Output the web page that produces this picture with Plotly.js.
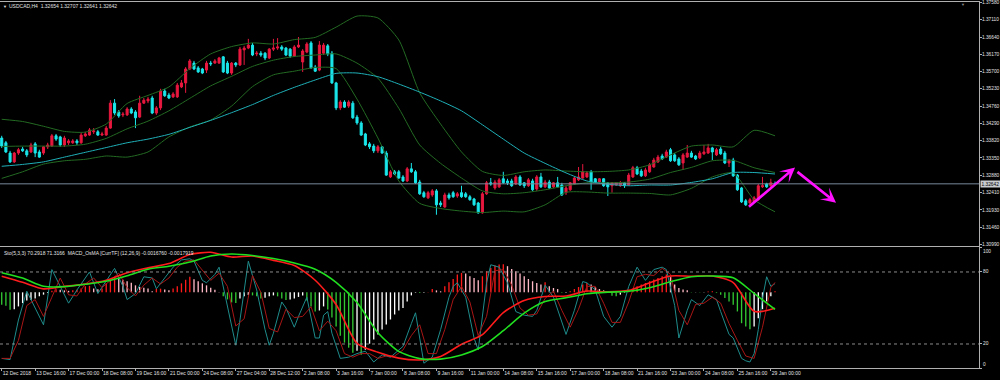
<!DOCTYPE html>
<html><head><meta charset="utf-8">
<script src="https://cdn.plot.ly/plotly-3.0.1.min.js"></script>
<style>html,body{margin:0;padding:0;background:#000;}#chart{width:1000px;height:380px;}</style>
</head><body><div id="chart"></div>
<script>
const symbolTitle = "USDCAD,H4  1.32654 1.32707 1.32641 1.32642";
const subTitle = "Sto(5,3,3) 70.2918 71.3166  MACD_OsMA [CurrTF] (12,26,9) -0.0016760 -0.0017919";

const open = [
1.3389,1.3376,1.3348,1.3324,1.3348,1.3359,1.3354,1.3351,1.3373,1.3351,
1.3348,1.3365,1.3367,1.3395,1.3392,1.3370,1.3376,1.3376,1.3381,1.3376,
1.3395,1.3397,1.3406,1.3406,1.3397,1.3397,1.3416,1.3484,1.3460,1.3452,
1.3452,1.3468,1.3460,1.3446,1.3484,1.3490,1.3498,1.3457,1.3471,1.3517,
1.3506,1.3501,1.3501,1.3528,1.3539,1.3577,1.3593,1.3580,1.3577,1.3574,
1.3593,1.3593,1.3593,1.3610,1.3593,1.3566,1.3593,1.3588,1.3629,1.3634,
1.3642,1.3618,1.3620,1.3620,1.3607,1.3631,1.3634,1.3637,1.3634,1.3631,
1.3612,1.3637,1.3596,1.3623,1.3648,1.3582,1.3574,1.3620,1.3640,1.3620,
1.3539,1.3471,1.3487,1.3476,1.3484,1.3446,1.3430,1.3400,1.3373,1.3367,
1.3354,1.3365,1.3348,1.3283,1.3297,1.3297,1.3283,1.3272,1.3305,1.3297,
1.3269,1.3240,1.3226,1.3234,1.3245,1.3212,1.3201,1.3234,1.3240,1.3231,
1.3240,1.3237,1.3229,1.3223,1.3212,1.3185,1.3237,1.3267,1.3253,1.3256,
1.3278,1.3272,1.3272,1.3264,1.3283,1.3267,1.3259,1.3272,1.3250,1.3283,
1.3256,1.3269,1.3256,1.3267,1.3261,1.3240,1.3248,1.3264,1.3275,1.3280,
1.3283,1.3297,1.3278,1.3269,1.3278,1.3267,1.3259,1.3261,1.3259,1.3267,
1.3261,1.3283,1.3308,1.3299,1.3286,1.3297,1.3310,1.3324,1.3340,1.3337,
1.3357,1.3343,1.3332,1.3321,1.3337,1.3348,1.3340,1.3335,1.3346,1.3348,
1.3362,1.3343,1.3359,1.3348,1.3321,1.3329,1.3288,1.3253,1.3218,1.3212,
1.3215,1.3221,1.3256,1.3264,1.3259,1.32654];
const high = [
1.3395,1.3381,1.3354,1.3351,1.3362,1.3365,1.3359,1.3376,1.3378,1.3357,
1.3367,1.3376,1.3400,1.3400,1.3395,1.3395,1.3386,1.3386,1.3386,1.3403,
1.3406,1.3416,1.3416,1.3411,1.3406,1.3422,1.3492,1.3495,1.3465,1.3460,
1.3473,1.3473,1.3465,1.3504,1.3498,1.3501,1.3504,1.3476,1.3523,1.3523,
1.3512,1.3514,1.3539,1.3547,1.3582,1.3604,1.3599,1.3585,1.3580,1.3599,
1.3599,1.3604,1.3610,1.3612,1.3599,1.3596,1.3596,1.3637,1.3640,1.3659,
1.3648,1.3626,1.3626,1.3623,1.3634,1.3659,1.3661,1.3642,1.3637,1.3634,
1.3642,1.3664,1.3631,1.3650,1.3653,1.3588,1.3653,1.3648,1.3645,1.3626,
1.3542,1.3492,1.3492,1.3492,1.3490,1.3452,1.3435,1.3403,1.3378,1.3373,
1.3370,1.3367,1.3354,1.3302,1.3302,1.3302,1.3288,1.3310,1.3321,1.3302,
1.3275,1.3245,1.3245,1.3250,1.3250,1.3218,1.3240,1.3240,1.3245,1.3242,
1.3259,1.3242,1.3234,1.3226,1.3215,1.3242,1.3272,1.3280,1.3275,1.3280,
1.3297,1.3278,1.3278,1.3288,1.3288,1.3269,1.3280,1.3278,1.3288,1.3294,
1.3275,1.3275,1.3269,1.3283,1.3267,1.3259,1.3269,1.3283,1.3310,1.3318,
1.3299,1.3302,1.3280,1.3280,1.3280,1.3269,1.3269,1.3269,1.3272,1.3269,
1.3294,1.3313,1.3313,1.3305,1.3308,1.3321,1.3335,1.3343,1.3346,1.3357,
1.3362,1.3348,1.3337,1.3348,1.3370,1.3354,1.3343,1.3354,1.3370,1.3373,
1.3365,1.3362,1.3365,1.3354,1.3332,1.3335,1.3291,1.3256,1.3223,1.3226,
1.3231,1.3264,1.3283,1.3267,1.3278,1.32707];
const low = [
1.3362,1.3348,1.3321,1.3321,1.3343,1.3351,1.3337,1.3348,1.3337,1.3335,
1.3343,1.3359,1.3365,1.3381,1.3365,1.3365,1.3370,1.3373,1.3370,1.3373,
1.3392,1.3395,1.3400,1.3395,1.3395,1.3395,1.3414,1.3452,1.3444,1.3446,
1.3449,1.3454,1.3416,1.3444,1.3482,1.3484,1.3454,1.3452,1.3465,1.3501,
1.3495,1.3498,1.3498,1.3525,1.3512,1.3574,1.3574,1.3566,1.3563,1.3566,
1.3585,1.3591,1.3591,1.3566,1.3563,1.3561,1.3582,1.3585,1.3588,1.3631,
1.3612,1.3612,1.3610,1.3601,1.3604,1.3626,1.3629,1.3626,1.3612,1.3607,
1.3610,1.3634,1.3569,1.3620,1.3577,1.3569,1.3571,1.3615,1.3612,1.3536,
1.3465,1.3465,1.3471,1.3471,1.3441,1.3425,1.3395,1.3367,1.3359,1.3348,
1.3348,1.3346,1.3286,1.3280,1.3288,1.3278,1.3269,1.3269,1.3294,1.3264,
1.3234,1.3226,1.3223,1.3229,1.3180,1.3201,1.3199,1.3221,1.3226,1.3226,
1.3226,1.3226,1.3218,1.3204,1.3183,1.3183,1.3234,1.3259,1.3248,1.3253,
1.3264,1.3261,1.3256,1.3261,1.3259,1.3253,1.3256,1.3245,1.3245,1.3253,
1.3253,1.3250,1.3253,1.3253,1.3231,1.3234,1.3245,1.3261,1.3272,1.3278,
1.3280,1.3248,1.3267,1.3267,1.3256,1.3231,1.3240,1.3259,1.3256,1.3253,
1.3259,1.3280,1.3288,1.3283,1.3283,1.3294,1.3308,1.3321,1.3329,1.3335,
1.3324,1.3324,1.3313,1.3302,1.3335,1.3335,1.3329,1.3332,1.3343,1.3346,
1.3329,1.3340,1.3343,1.3318,1.3310,1.3283,1.3245,1.3212,1.3204,1.3207,
1.3212,1.3218,1.3253,1.3253,1.3256,1.32641];
const close = [
1.3367,1.3351,1.3324,1.3348,1.3357,1.3354,1.3343,1.3370,1.3348,1.3337,
1.3365,1.3370,1.3395,1.3386,1.3370,1.3389,1.3381,1.3381,1.3376,1.3397,
1.3400,1.3411,1.3408,1.3397,1.3400,1.3416,1.3484,1.3457,1.3449,1.3454,
1.3468,1.3457,1.3444,1.3484,1.3492,1.3495,1.3457,1.3471,1.3517,1.3504,
1.3498,1.3509,1.3533,1.3539,1.3577,1.3599,1.3577,1.3569,1.3566,1.3593,
1.3591,1.3599,1.3607,1.3569,1.3566,1.3593,1.3588,1.3631,1.3634,1.3642,
1.3615,1.3620,1.3615,1.3607,1.3631,1.3634,1.3637,1.3631,1.3615,1.3612,
1.3637,1.3642,1.3626,1.3645,1.3580,1.3571,1.3642,1.3642,1.3618,1.3539,
1.3471,1.3487,1.3473,1.3487,1.3444,1.3430,1.3397,1.3370,1.3365,1.3354,
1.3365,1.3348,1.3288,1.3297,1.3291,1.3280,1.3272,1.3305,1.3297,1.3267,
1.3237,1.3229,1.3240,1.3245,1.3207,1.3207,1.3234,1.3226,1.3229,1.3237,
1.3229,1.3229,1.3221,1.3207,1.3185,1.3237,1.3267,1.3264,1.3269,1.3275,
1.3267,1.3267,1.3259,1.3283,1.3261,1.3259,1.3275,1.3248,1.3283,1.3256,
1.3269,1.3253,1.3267,1.3256,1.3234,1.3253,1.3267,1.3280,1.3283,1.3297,
1.3294,1.3269,1.3269,1.3278,1.3259,1.3256,1.3267,1.3267,1.3267,1.3259,
1.3288,1.3308,1.3291,1.3286,1.3302,1.3316,1.3329,1.3337,1.3332,1.3351,
1.3327,1.3327,1.3316,1.3343,1.3348,1.3337,1.3332,1.3348,1.3351,1.3362,
1.3351,1.3357,1.3346,1.3321,1.3327,1.3286,1.3248,1.3215,1.3207,1.3221,
1.3226,1.3259,1.3259,1.3256,1.3267,1.32642];

// indicator lines read at these bar positions
const sampleBars = [0,5,10,15,20,25,30,35,40,45,50,55,60,65,70,75,80,85,90,95,100,105,110,115,120,125,130,135,140,145,150,155,160,165,170,175,180,185];
const maLine = [1.3312,1.3317,1.3324,1.3337,1.3350,1.3363,1.3376,1.3386,1.3399,1.3418,1.3437,1.3458,1.3480,1.3505,1.3527,1.3547,1.3565,1.3566,1.3556,1.3536,1.3514,1.3490,1.3463,1.3425,1.3386,1.3348,1.3320,1.3294,1.3272,1.3263,1.3259,1.3261,1.3261,1.3268,1.3278,1.3295,1.3295,1.3291];
const bbUpper = [1.3440,1.3434,1.3421,1.3407,1.3405,1.3427,1.3483,1.3505,1.3528,1.3578,1.3618,1.3638,1.3648,1.3645,1.3657,1.3663,1.3691,1.3721,1.3716,1.3656,1.3512,1.3427,1.3351,1.3298,1.3287,1.3297,1.3302,1.3299,1.3297,1.3298,1.3302,1.3316,1.3343,1.3367,1.3370,1.3365,1.3410,1.3395];
const bbMiddle = [1.3366,1.3367,1.3367,1.3367,1.3372,1.3388,1.3414,1.3435,1.3463,1.3497,1.3531,1.3557,1.3584,1.3601,1.3611,1.3615,1.3618,1.3593,1.3552,1.3470,1.3370,1.3320,1.3280,1.3245,1.3237,1.3240,1.3248,1.3259,1.3267,1.3267,1.3269,1.3277,1.3295,1.3309,1.3327,1.3328,1.3308,1.3295];
const bbLower = [1.3279,1.3297,1.3318,1.3327,1.3331,1.3340,1.3337,1.3351,1.3392,1.3419,1.3438,1.3476,1.3529,1.3561,1.3571,1.3581,1.3578,1.3495,1.3389,1.3272,1.3211,1.3197,1.3190,1.3186,1.3190,1.3188,1.3207,1.3241,1.3242,1.3239,1.3239,1.3238,1.3234,1.3252,1.3283,1.3294,1.3221,1.3188];
const macdMain = [0.00170,0.00106,0.00037,0.00062,0.00087,0.00128,0.00207,0.00258,0.00303,0.00398,0.00422,0.00372,0.00383,0.00337,0.00282,0.00128,-0.00128,-0.00537,-0.00632,-0.00693,-0.00712,-0.00675,-0.00547,-0.00446,-0.00213,-0.00085,-0.00043,-0.00039,0.00014,0.00005,0.00021,0.00101,0.00172,0.00170,0.00173,0.00103,-0.00200,-0.0016760];
const macdSignal = [0.00207,0.00151,0.00064,0.00060,0.00085,0.00117,0.00175,0.00244,0.00276,0.00319,0.00383,0.00404,0.00388,0.00356,0.00310,0.00244,0.00106,-0.00106,-0.00425,-0.00622,-0.00698,-0.00703,-0.00659,-0.00571,-0.00404,-0.00218,-0.00096,-0.00057,-0.00015,0.00003,0.00011,0.00049,0.00112,0.00165,0.00172,0.00154,-0.00011,-0.0017919];

const osma = [
-0.00130,-0.00141,-0.00183,-0.00177,-0.00148,-0.00113,-0.00085,-0.00077,-0.00064,-0.00042,
-0.00024,-0.00007,0.00016,0.00032,0.00027,0.00021,0.00016,0.00021,0.00027,0.00042,
0.00064,0.00069,0.00042,0.00032,0.00042,0.00095,0.00133,0.00164,0.00148,0.00133,
0.00117,0.00101,0.00074,0.00058,0.00048,0.00042,0.00011,0.00037,0.00039,0.00029,
0.00021,0.00042,0.00064,0.00095,0.00133,0.00164,0.00138,0.00117,0.00095,0.00074,
0.00048,0.00027,0.00005,-0.00042,-0.00074,-0.00106,-0.00113,-0.00064,-0.00042,-0.00027,
-0.00032,-0.00042,-0.00064,-0.00058,-0.00042,-0.00032,-0.00042,-0.00064,-0.00080,-0.00074,
-0.00064,-0.00048,-0.00032,-0.00085,-0.00148,-0.00201,-0.00191,-0.00148,-0.00180,-0.00265,
-0.00360,-0.00456,-0.00530,-0.00583,-0.00636,-0.00615,-0.00657,-0.00604,-0.00541,-0.00498,
-0.00445,-0.00392,-0.00339,-0.00286,-0.00233,-0.00191,-0.00166,-0.00095,-0.00032,-0.00005,
-0.00006,-0.00003,0.00005,0.00035,0.00021,0.00011,0.00064,0.00106,0.00141,0.00188,
0.00205,0.00198,0.00170,0.00152,0.00127,0.00170,0.00223,0.00258,0.00283,0.00294,
0.00295,0.00276,0.00247,0.00223,0.00198,0.00170,0.00141,0.00117,0.00099,0.00082,
0.00106,0.00064,0.00046,0.00035,-0.00005,-0.00003,0.00011,0.00035,0.00056,0.00082,
0.00099,0.00082,0.00056,0.00035,0.00021,0.00011,-0.00035,-0.00042,-0.00024,-0.00005,
0.00011,0.00035,0.00064,0.00082,0.00099,0.00117,0.00135,0.00152,0.00170,0.00188,
0.00162,0.00082,0.00046,0.00029,0.00021,-0.00003,-0.00002,-0.00002,-0.00001,0.00008,
0.00011,-0.00007,-0.00024,-0.00060,-0.00095,-0.00130,-0.00201,-0.00325,-0.00360,-0.00389,
-0.00360,-0.00272,-0.00177,-0.00095,-0.00042,0.00011];

const stochMainBars = [0,2,4,6,7,10,12,14,16,18,21,23,25,27,29,30,32,34,36,37,39,41,43,45,46,48,49,51,52,54,56,57,59,61,63,64,65,67,68,70,71,73,75,76,77,78,79,81,83,85,87,89,91,93,95,96,98,99,101,103,105,107,108,109,111,113,114,116,117,119,121,123,125,127,128,130,132,134,135,137,139,140,142,144,146,148,150,152,154,156,158,159,161,162,164,165,167,169,170,171,172,174,175,176,177,178,179,180,181,182,183,184,185];
const stochMain = [8,7,40,64,57,36,82,68,54,65,80,62,73,83,68,57,62,76,75,66,75,84,90,91,89,73,71,78,84,51,19,40,89,65,32,19,29,55,50,34,43,59,25,25,44,47,29,8,9,12,14,5,11,9,15,18,37,46,4,9,32,59,68,71,59,25,15,71,86,84,71,47,44,43,48,69,59,37,28,48,72,71,65,43,34,43,68,84,73,82,84,82,52,25,48,57,52,61,59,57,47,28,25,16,8,6,5,12,32,58,76,68,70.2918];
const stochSignalBars = [0,2,4,6,8,10,12,14,16,18,20,22,24,26,28,30,32,34,36,38,40,42,44,46,48,50,52,54,56,58,60,62,64,66,68,70,72,74,76,78,80,82,84,86,88,90,92,94,96,98,100,102,104,106,108,110,112,114,116,118,120,122,124,126,128,130,132,134,136,138,140,142,144,146,148,150,152,154,156,158,160,162,164,166,168,170,172,174,176,178,180,182,184,185];
const stochSignal = [8,8,23,52,57,43,59,75,61,60,70,75,67,73,79,67,60,69,75,70,75,84,89,90,81,73,79,68,35,41,77,63,33,30,49,42,43,51,31,39,31,12,9,12,12,8,10,10,15,27,36,12,12,32,57,68,55,27,43,81,82,69,50,44,45,58,64,48,34,49,68,68,54,38,38,55,76,78,77,83,78,48,36,53,54,59,54,37,23,10,8,34,67,71.3166];
const stochLevels = [20, 80];
const stochTicks = [0, 20, 80, 100];

const priceTicks = [1.37580,1.37110,1.36640,1.36170,1.35700,1.35230,1.34760,1.34290,1.33820,1.33350,1.32880,1.32410,1.31930,1.31460,1.30990];
const timeLabels = ["12 Dec 2018","13 Dec 16:00","17 Dec 00:00","18 Dec 08:00","19 Dec 16:00","21 Dec 00:00","24 Dec 08:00","27 Dec 04:00","28 Dec 12:00","2 Jan 08:00","3 Jan 16:00","7 Jan 00:00","8 Jan 08:00","9 Jan 16:00","11 Jan 00:00","14 Jan 08:00","15 Jan 16:00","17 Jan 00:00","18 Jan 08:00","21 Jan 16:00","23 Jan 00:00","24 Jan 08:00","25 Jan 16:00","29 Jan 00:00"];
const timeLabelStep = 8; // bars between labels
// hand-drawn arrows: [tailBar, tailPrice, headBar, headPrice]
const arrowPts = [[178.4,1.3198,189.8,1.3309],[190.0,1.3300,199.6,1.3213]];

const N = open.length;
const barIdx = Array.from({length:N},(_,i)=>i);
const lastClose = close[N-1];
const osmaColors = osma.map((v,i)=>{const p=i>0?osma[i-1]:v; if(v>=0) return v>=p?'#ff1a1a':'#ffb8c6'; return v<=p?'#32c832':'#ffffff';});

const GRAY='#b0b0b0', TXT='#e2e2e2', FONT='Liberation Sans, Arial, sans-serif';
const AX_FS = 4.8;
const bbColor='#236a23';
const traces = [
 {x:sampleBars,y:bbUpper,type:'scatter',mode:'lines',line:{color:bbColor,width:1,shape:'spline',smoothing:0.6},xaxis:'x',yaxis:'y'},
 {x:sampleBars,y:bbMiddle,type:'scatter',mode:'lines',line:{color:bbColor,width:1,shape:'spline',smoothing:0.6},xaxis:'x',yaxis:'y'},
 {x:sampleBars,y:bbLower,type:'scatter',mode:'lines',line:{color:bbColor,width:1,shape:'spline',smoothing:0.6},xaxis:'x',yaxis:'y'},
 {x:sampleBars,y:maLine,type:'scatter',mode:'lines',line:{color:'#1fb0b8',width:1,shape:'spline',smoothing:0.6},xaxis:'x',yaxis:'y'},
 {type:'candlestick',x:barIdx,open:open,high:high,low:low,close:close,xaxis:'x',yaxis:'y',whiskerwidth:0,
  increasing:{line:{color:'#e8183f',width:1},fillcolor:'#e8183f'},
  decreasing:{line:{color:'#1ae6ea',width:1},fillcolor:'#1ae6ea'}},
 {type:'bar',x:barIdx,y:osma,xaxis:'x2',yaxis:'y2',width:0.32,marker:{color:osmaColors,line:{width:0}}},
 {x:stochMainBars,y:stochMain,type:'scatter',mode:'lines',line:{color:'#1f8c8c',width:1},xaxis:'x2',yaxis:'y3'},
 {x:stochSignalBars,y:stochSignal,type:'scatter',mode:'lines',line:{color:'#a81616',width:1},xaxis:'x2',yaxis:'y3'},
 {x:sampleBars,y:macdMain,type:'scatter',mode:'lines',line:{color:'#ff1c1c',width:1.6,shape:'spline',smoothing:0.7},xaxis:'x2',yaxis:'y4'},
 {x:sampleBars,y:macdSignal,type:'scatter',mode:'lines',line:{color:'#20e020',width:1.6,shape:'spline',smoothing:0.7},xaxis:'x2',yaxis:'y4'}
];

const xr=[-0.41,233.8];
const macdRange=[-0.00797,0.00478];
const shapes = [
 {type:'line',xref:'paper',x0:0,x1:1,yref:'y',y0:lastClose,y1:lastClose,line:{color:'#778899',width:1}}
].concat(stochLevels.map(v=>({type:'line',xref:'paper',x0:0,x1:1,yref:'y3',y0:v,y1:v,line:{color:'#8a8a8a',width:1,dash:'dot'}})));

const annotations = [
 {xref:'paper',yref:'paper',x:0,y:1,xanchor:'left',yanchor:'top',xshift:1,yshift:-2,text:'▼',showarrow:false,font:{size:4,color:TXT,family:FONT}},
 {xref:'paper',yref:'paper',x:0,y:1,xanchor:'left',yanchor:'top',xshift:7,yshift:-1,text:symbolTitle,showarrow:false,font:{size:5,color:TXT,family:FONT}},
 {xref:'paper',yref:'paper',x:0,y:0.3288,xanchor:'left',yanchor:'top',xshift:2,yshift:-1,text:subTitle,showarrow:false,font:{size:5,color:TXT,family:FONT}},
 {xref:'paper',yref:'paper',x:0.9837,y:1,xanchor:'center',yanchor:'top',yshift:0,text:'▼',showarrow:false,font:{size:4,color:'#909090',family:FONT}},
 {xref:'paper',x:1,xanchor:'left',xshift:1,yref:'y',y:lastClose,yanchor:'middle',text:lastClose.toFixed(5),showarrow:false,
  bgcolor:'#c8ccd0',borderpad:0.5,font:{size:AX_FS,color:'#000',family:FONT}}
].concat(stochTicks.map(v=>({xref:'paper',x:1,xanchor:'left',xshift:3,yref:'y3',y:v,
  yanchor: v===100?'top':(v===0?'bottom':'middle'),text:String(v),showarrow:false,borderpad:0,
  font:{size:AX_FS,color:TXT,family:FONT}})))
 .concat(arrowPts.map(a=>({xref:'x',yref:'y',axref:'x',ayref:'y',x:a[2],y:a[3],ax:a[0],ay:a[1],text:'',showarrow:true,
  arrowhead:3,arrowsize:0.95,arrowwidth:2.6,arrowcolor:'#ff10ff',standoff:0,startstandoff:0})));

const layout = {
 width:1000,height:380,paper_bgcolor:'#000',plot_bgcolor:'#000',
 margin:{l:0,r:21,t:0,b:12,pad:0},showlegend:false,hovermode:false,
 font:{family:FONT,size:5,color:TXT},
 xaxis:{domain:[0,1],range:xr,anchor:'y',showticklabels:false,showgrid:false,zeroline:false,ticks:'',
  rangeslider:{visible:false},showline:true,linecolor:GRAY,linewidth:1,mirror:true},
 yaxis:{domain:[0.33152,0.99457],range:[1.30949,1.37594],side:'right',anchor:'x',
  tickvals:priceTicks,ticktext:priceTicks.map(v=>v.toFixed(5)),ticks:'outside',ticklen:2,tickcolor:GRAY,
  ticklabelstandoff:-1,
  showgrid:false,zeroline:false,showline:true,linecolor:GRAY,linewidth:1,mirror:true,
  tickfont:{size:AX_FS,color:TXT,family:FONT}},
 xaxis2:{domain:[0,1],range:xr,anchor:'y2',showgrid:false,zeroline:false,
  tickvals:timeLabels.map((_,k)=>k*timeLabelStep),ticktext:timeLabels,ticks:'outside',ticklen:2,tickcolor:GRAY,
  ticklabelposition:'outside right',tickangle:0,showline:true,linecolor:GRAY,linewidth:1,mirror:true,
  tickfont:{size:5,color:TXT,family:FONT}},
 yaxis2:{domain:[0,0.3288],range:macdRange,anchor:'x2',visible:false,showgrid:false,zeroline:false},
 yaxis3:{overlaying:'y2',anchor:'x2',range:[0,100.8],side:'right',tickvals:stochTicks,showticklabels:false,
  ticks:'outside',ticklen:2,tickcolor:GRAY,showgrid:false,zeroline:false,showline:true,linecolor:GRAY,linewidth:1,mirror:true},
 yaxis4:{overlaying:'y2',anchor:'x2',range:macdRange,visible:false,showgrid:false,zeroline:false},
 shapes:shapes,annotations:annotations
};
Plotly.newPlot('chart',traces,layout,{staticPlot:true,displayModeBar:false});
</script></body></html>
